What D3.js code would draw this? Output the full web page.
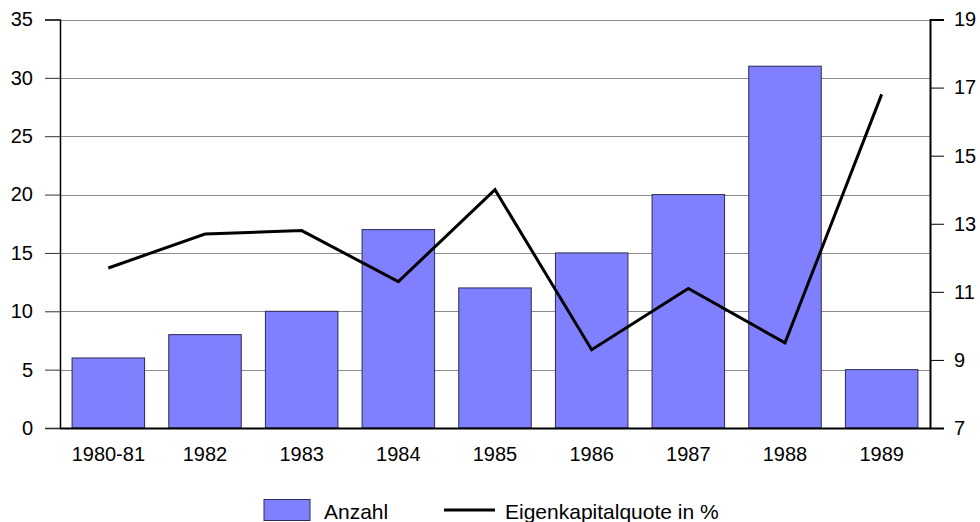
<!DOCTYPE html>
<html>
<head>
<meta charset="utf-8">
<script src="https://cdn.jsdelivr.net/npm/d3@7"></script>
<style>
  html, body { margin: 0; padding: 0; background: #fff; }
  svg { display: block; font-family: "Liberation Sans", Arial, sans-serif; }
</style>
</head>
<body>
<svg id="chart" width="980" height="522"></svg>
<script>
const categories = ["1980-81", "1982", "1983", "1984", "1985", "1986", "1987", "1988", "1989"];
const anzahl = [6, 8, 10, 17, 12, 15, 20, 31, 5];
const eigenkapitalquote = [11.7, 12.7, 12.8, 11.3, 14.0, 9.3, 11.1, 9.5, 16.8];
const leftTicks = [0, 5, 10, 15, 20, 25, 30, 35];
const rightTicks = [7, 9, 11, 13, 15, 17, 19];
const seriesNames = ["Anzahl", "Eigenkapitalquote in %"];

const svg = d3.select("#chart");
const L = 60, R = 930, T = 19.5, B = 428;
const FONT = "Liberation Sans, Arial, sans-serif";

const x = d3.scaleBand().domain(categories).range([L, R]).paddingInner(0.25).paddingOuter(0.125);
const yL = d3.scaleLinear().domain([0, 35]).range([B, T]);
const yR = d3.scaleLinear().domain([7, 19]).range([B, T]);

// gridlines
svg.append("g").selectAll("line").data(leftTicks.filter(d => d > 0)).join("line")
  .attr("x1", L).attr("x2", R)
  .attr("y1", d => Math.round(yL(d)) + 0.5).attr("y2", d => Math.round(yL(d)) + 0.5)
  .attr("stroke", "#8c8c8c").attr("stroke-width", 1);

// bars
svg.append("g").selectAll("rect").data(anzahl).join("rect")
  .attr("x", (d, i) => x(categories[i]))
  .attr("y", d => yL(d))
  .attr("width", x.bandwidth())
  .attr("height", d => B - yL(d))
  .attr("fill", "#8080ff")
  .attr("stroke", "#2a2a55").attr("stroke-width", 1);

// left axis
const axL = d3.axisLeft(yL).tickValues(leftTicks).tickSize(15).tickPadding(12);
const gL = svg.append("g").attr("transform", `translate(${L},0)`).call(axL);
gL.select(".domain").attr("stroke", "#000").attr("stroke-width", 1.5);
gL.selectAll(".tick line").attr("stroke", "#333");
gL.selectAll(".tick text").attr("font-size", 20).attr("fill", "#000").attr("font-family", FONT);

// right axis
const axR = d3.axisRight(yR).tickValues(rightTicks).tickSize(14).tickPadding(10);
const gR = svg.append("g").attr("transform", `translate(${R},0)`).call(axR);
gR.select(".domain").attr("stroke", "#000").attr("stroke-width", 2);
gR.selectAll(".tick line").attr("stroke", "#000");
gR.selectAll(".tick text").attr("font-size", 20).attr("fill", "#000").attr("font-family", FONT);

// bottom axis
const axB = d3.axisBottom(x).tickSize(0).tickPadding(19);
const gB = svg.append("g").attr("transform", `translate(0,${B})`).call(axB);
gB.select(".domain").attr("stroke", "#000").attr("stroke-width", 2);
gB.selectAll(".tick text").attr("font-size", 20).attr("fill", "#000").attr("font-family", FONT);

// line
const line = d3.line()
  .x((d, i) => x(categories[i]) + x.bandwidth() / 2)
  .y(d => yR(d));
svg.append("path").datum(eigenkapitalquote)
  .attr("d", line)
  .attr("fill", "none").attr("stroke", "#000").attr("stroke-width", 3)
  .attr("stroke-linejoin", "miter");

// legend
const lg = svg.append("g");
lg.append("rect").attr("x", 264).attr("y", 499.5).attr("width", 46).attr("height", 21)
  .attr("fill", "#8080ff").attr("stroke", "#2a2a55").attr("stroke-width", 1);
lg.append("text").attr("x", 324).attr("y", 519).attr("font-size", 21).attr("fill", "#000").text(seriesNames[0]);
lg.append("line").attr("x1", 444).attr("x2", 495).attr("y1", 510).attr("y2", 510)
  .attr("stroke", "#000").attr("stroke-width", 3);
lg.append("text").attr("x", 505).attr("y", 519).attr("font-size", 21).attr("fill", "#000").text(seriesNames[1]);
</script>
</body>
</html>
